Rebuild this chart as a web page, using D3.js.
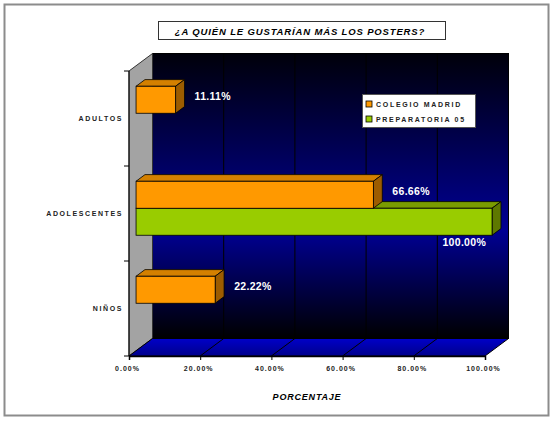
<!DOCTYPE html>
<html>
<head>
<meta charset="utf-8">
<script src="https://cdn.jsdelivr.net/npm/d3@7"></script>
<style>
  body { margin: 0; background: #fff; }
  text { font-family: "Liberation Sans", Arial, sans-serif; }
</style>
</head>
<body>
<div id="chart"></div>
<script>
var w = 554, h = 421;

// data
var categories = ["ADULTOS", "ADOLESCENTES", "NIÑOS"];
var seriesNames = ["COLEGIO MADRID", "PREPARATORIA 05"];
var colegioMadrid = [0.1111, 0.6666, 0.2222];
var preparatoria05 = [0, 1.0, 0];
var xTicks = [0, 0.2, 0.4, 0.6, 0.8, 1.0];
var titleText = "¿A QUIÉN LE GUSTARÍAN MÁS LOS POSTERS?";
var xTitle = "PORCENTAJE";

var seriesValues = [colegioMadrid, preparatoria05];
var colors = [
  {front: "#ff9900", top: "#d48000", side: "#9c5c00"},
  {front: "#99cc00", top: "#7a9c00", side: "#5e7800"}
];

// 3D depth of the plot box
var depth = {dx: 23.5, dy: -17.5};
var barT0 = 0.3, barT1 = 0.68;

var svg = d3.select("#chart").append("svg")
    .attr("width", w)
    .attr("height", h);

// outer frame
svg.append("rect")
   .attr("x", 4.5).attr("y", 4.5)
   .attr("width", 544).attr("height", 411)
   .attr("fill", "#fff")
   .attr("stroke", "#8c8c8c")
   .attr("stroke-width", 2);

// title box
svg.append("rect")
   .attr("x", 158.5).attr("y", 21.5)
   .attr("width", 287).attr("height", 18)
   .attr("fill", "#fff")
   .attr("stroke", "#333")
   .attr("stroke-width", 1);
svg.append("text")
   .attr("x", 300).attr("y", 34.5)
   .attr("text-anchor", "middle")
   .attr("font-size", "9.5px")
   .attr("font-weight", "bold")
   .attr("font-style", "italic")
   .attr("letter-spacing", "0.85px")
   .text(titleText);

// scales (front plane)
var xScale = d3.scaleLinear().domain([0, 1]).range([129, 485]);
var yScale = d3.scaleBand().domain(categories).range([71, 356]);
var ySeries = d3.scaleBand().domain(seriesNames)
    .range([0, yScale.step()])
    .paddingOuter(0.76);

var x0 = xScale(0), x1 = xScale(1);
var yTop = yScale.range()[0], yBot = yScale.range()[1];

// gradients
var defs = svg.append("defs");
var wallGrad = defs.append("linearGradient")
    .attr("id", "wallGrad").attr("x1", 0).attr("y1", 0).attr("x2", 0).attr("y2", 1);
wallGrad.append("stop").attr("offset", "0%").attr("stop-color", "#00000a");
wallGrad.append("stop").attr("offset", "62%").attr("stop-color", "#000094");
wallGrad.append("stop").attr("offset", "100%").attr("stop-color", "#000000");

var floorGrad = defs.append("linearGradient")
    .attr("id", "floorGrad").attr("x1", 0).attr("y1", 0).attr("x2", 0).attr("y2", 1);
floorGrad.append("stop").attr("offset", "0%").attr("stop-color", "#0000c8");
floorGrad.append("stop").attr("offset", "100%").attr("stop-color", "#00008c");

function pts(arr) { return arr.map(function(p) { return p.join(","); }).join(" "); }

// back wall
svg.append("rect")
   .attr("x", x0 + depth.dx).attr("y", yTop + depth.dy)
   .attr("width", x1 - x0).attr("height", yBot - yTop)
   .attr("fill", "url(#wallGrad)")
   .attr("stroke", "#000");

// side wall
svg.append("polygon")
   .attr("points", pts([[x0, yBot], [x0, yTop], [x0 + depth.dx, yTop + depth.dy], [x0 + depth.dx, yBot + depth.dy]]))
   .attr("fill", "#a3a3a3")
   .attr("stroke", "#333");

// floor
svg.append("polygon")
   .attr("points", pts([[x0, yBot], [x1, yBot], [x1 + depth.dx, yBot + depth.dy], [x0 + depth.dx, yBot + depth.dy]]))
   .attr("fill", "url(#floorGrad)")
   .attr("stroke", "#000");

// grid lines on wall and floor
var grid = svg.append("g");
xTicks.slice(1, -1).forEach(function(t) {
  var gx = xScale(t);
  grid.append("line")
      .attr("x1", gx + depth.dx).attr("x2", gx + depth.dx)
      .attr("y1", yTop + depth.dy).attr("y2", yBot + depth.dy)
      .attr("stroke", "#000");
  grid.append("line")
      .attr("x1", gx).attr("y1", yBot)
      .attr("x2", gx + depth.dx).attr("y2", yBot + depth.dy)
      .attr("stroke", "#000");
});

// x axis
var xAxis = d3.axisBottom(xScale)
    .tickValues(xTicks)
    .tickSize(4)
    .tickFormat(d3.format(".2%"));
var gx = svg.append("g")
    .attr("transform", "translate(0," + yBot + ")")
    .call(xAxis);
gx.select(".domain").attr("stroke", "#000").attr("stroke-width", 1.5);
gx.selectAll(".tick line").attr("stroke", "#000");
gx.selectAll(".tick text")
  .attr("y", 10)
  .attr("dx", "-2px")
  .attr("font-family", "Liberation Sans, Arial, sans-serif")
  .attr("font-size", "7px")
  .attr("font-weight", "bold")
  .attr("letter-spacing", "1px")
  .attr("fill", "#222");

svg.append("text")
   .attr("x", 307).attr("y", 400)
   .attr("text-anchor", "middle")
   .attr("font-size", "9px")
   .attr("font-weight", "bold")
   .attr("font-style", "italic")
   .attr("letter-spacing", "0.8px")
   .text(xTitle);

// y axis: ticks at category boundaries, labels at centres
var yBounds = categories.map(function(c) { return yScale(c); }).concat([yBot]);
var gy = svg.append("g");
gy.append("line")
  .attr("x1", x0).attr("x2", x0)
  .attr("y1", yTop).attr("y2", yBot)
  .attr("stroke", "#000");
gy.selectAll(".ytick")
  .data(yBounds)
  .enter().append("line")
  .attr("x1", x0 - 5).attr("x2", x0)
  .attr("y1", function(d) { return d; })
  .attr("y2", function(d) { return d; })
  .attr("stroke", "#000");
gy.selectAll(".ylabel")
  .data(categories)
  .enter().append("text")
  .attr("x", 123)
  .attr("y", function(d) { return yScale(d) + yScale.bandwidth() / 2 + 2; })
  .attr("text-anchor", "end")
  .attr("font-size", "7px")
  .attr("font-weight", "bold")
  .attr("letter-spacing", "1.6px")
  .attr("fill", "#222")
  .text(function(d) { return d; });

// bars
var bdx0 = depth.dx * barT0, bdy0 = depth.dy * barT0;
var bdx = depth.dx * (barT1 - barT0), bdy = depth.dy * (barT1 - barT0);

var bars = [];
categories.forEach(function(c, ci) {
  seriesNames.forEach(function(s, si) {
    bars.push({cat: c, series: s, si: si, value: seriesValues[si][ci]});
  });
});
// lower bars first so upper bars overlap them
bars.sort(function(a, b) {
  return d3.descending(yScale(a.cat) + ySeries(a.series), yScale(b.cat) + ySeries(b.series));
});

var barG = svg.append("g");
bars.forEach(function(d) {
  if (d.value <= 0) return;
  var bx = x0 + bdx0;
  var by = yScale(d.cat) + ySeries(d.series) + bdy0;
  var bw = xScale(d.value) - x0;
  var bh = ySeries.bandwidth();
  var col = colors[d.si];
  var g = barG.append("g");
  g.append("polygon")
   .attr("points", pts([[bx, by], [bx + bw, by], [bx + bw + bdx, by + bdy], [bx + bdx, by + bdy]]))
   .attr("fill", col.top).attr("stroke", "#000").attr("stroke-width", 0.8);
  g.append("polygon")
   .attr("points", pts([[bx + bw, by], [bx + bw + bdx, by + bdy], [bx + bw + bdx, by + bh + bdy], [bx + bw, by + bh]]))
   .attr("fill", col.side).attr("stroke", "#000").attr("stroke-width", 0.8);
  g.append("rect")
   .attr("x", bx).attr("y", by)
   .attr("width", bw).attr("height", bh)
   .attr("fill", col.front).attr("stroke", "#000").attr("stroke-width", 0.8);

  // value label
  var label = d3.format(".2%")(d.value);
  var lx = bx + bw + 19, ly = by + bh / 2 - 4, anchor = "start";
  if (lx + 40 > x1 + depth.dx) {
    lx = bx + bw - 6; ly = by + bh + 7; anchor = "end";
  }
  g.append("text")
   .attr("x", lx).attr("y", ly + 4)
   .attr("text-anchor", anchor)
   .attr("fill", "#fff")
   .attr("font-size", "10.5px")
   .attr("font-weight", "bold")
   .attr("letter-spacing", "0.3px")
   .text(label);
});

// legend
var legend = svg.append("g").attr("transform", "translate(362,94)");
legend.append("rect")
      .attr("x", 0.5).attr("y", 0.5)
      .attr("width", 113).attr("height", 33)
      .attr("fill", "#fff")
      .attr("stroke", "#555");
var items = legend.selectAll(".item")
      .data(seriesNames)
      .enter().append("g")
      .attr("transform", function(d, i) { return "translate(4," + (6 + i * 15) + ")"; });
items.append("rect")
     .attr("width", 6).attr("height", 6)
     .attr("y", 1)
     .attr("fill", function(d, i) { return colors[i].front; })
     .attr("stroke", "#000")
     .attr("stroke-width", 0.8);
items.append("text")
     .attr("x", 10).attr("y", 7)
     .attr("font-size", "7px")
     .attr("font-weight", "bold")
     .attr("letter-spacing", "1.7px")
     .attr("fill", "#222")
     .text(function(d) { return d; });
</script>
</body>
</html>
